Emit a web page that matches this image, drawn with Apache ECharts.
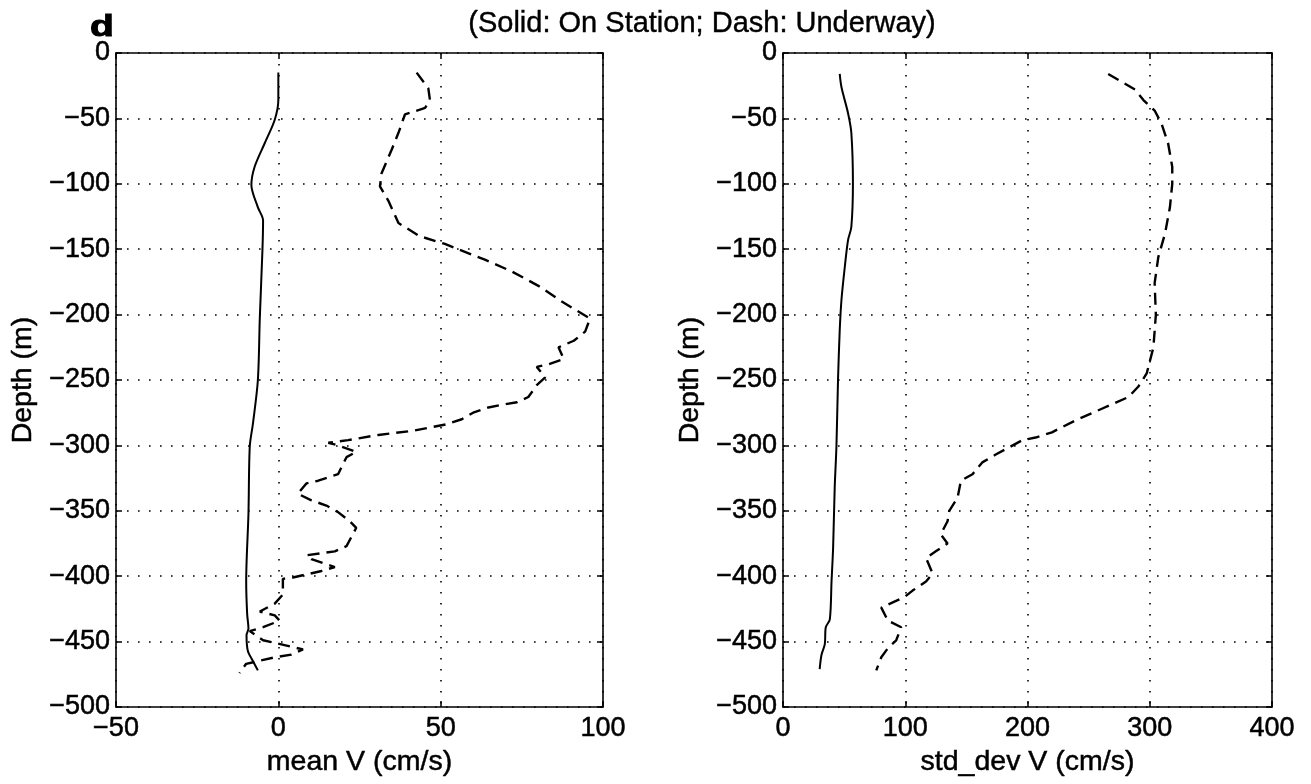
<!DOCTYPE html>
<html><head><meta charset="utf-8">
<script src="https://cdn.jsdelivr.net/npm/echarts@6/dist/echarts.min.js"></script>
<style>html,body{margin:0;padding:0;background:#fff}#c{width:1311px;height:784px}</style>
</head><body><div id="c"></div>
<script>
// ---- Data (depth in m, velocity in cm/s) ----
const meanStationDepth = [-15,-36,-51,-69,-87,-101,-118,-128,-151,-202,-250,-283,-301,-352,-404,-429,-440,-445,-457,-465,-472];
const meanStationV     = [0,0,-1.1,-4.2,-7.3,-8.3,-6.3,-4.7,-4.9,-5.7,-6.3,-7.8,-8.8,-9.2,-9.9,-9.6,-9.2,-9.8,-9.4,-7.8,-6.3];

const meanUnderwayDepth = [-15,-27,-36,-42,-47,-61,-74,-92,-102,-113,-130,-140,-146,-150,-158,-167,-178,-190,-203,-213,-220,-225,-234,-238,-240,-248,-254,-263,-267,-269,-271,-275,-280,-284,-289,-292,-296,-298,-300,-305,-309,-322,-327,-329,-337,-342,-346,-351,-358,-363,-377,-381,-384,-387,-390,-393,-396,-401,-402,-414,-421,-427,-430,-434,-439,-442,-449,-451,-456,-460,-462,-465,-467,-474];
const meanUnderwayV     = [42.6,46.2,46.7,45.2,39,37,34.9,31.8,31.3,33.9,37,43.5,51.3,55.4,63.6,71.9,80.1,87.3,96,94.5,91,86.3,87.9,83.2,79.6,82.2,79.6,77,73.5,68.8,64.7,60,56.5,51.5,41,30.8,21.5,15.4,18.4,24,21,18.4,12.3,8.7,6,10.2,14.8,18.4,22,24,21,17.4,8.7,10.2,13.8,17.4,13.3,4.5,1.4,1.4,-1.1,-5.7,-1.1,0.4,-4.7,-8.8,-4.7,-1.1,7.6,4,-1.1,-6.3,-9.9,-12];

const sdStationDepth = [-16,-26,-46,-61,-100,-133,-143,-164,-189,-212,-250,-301,-332,-378,-404,-433,-439,-452,-460,-471];
const sdStationV     = [46.4,47.8,53.2,55.9,57.2,55.9,53.2,50.5,47.8,46.4,45,43.7,42.3,41,39.7,38.3,35,34.2,31.5,30];

const sdUnderwayDepth = [-16,-22,-28,-36,-44,-54,-69,-87,-100,-118,-138,-156,-176,-200,-225,-245,-255,-263,-272,-281,-290,-294,-296,-307,-313,-322,-327,-340,-350,-358,-368,-375,-381,-386,-398,-404,-411,-416,-420,-424,-434,-439,-449,-455,-462,-472];
const sdUnderwayV     = [266,277,288,294.8,304,309.6,315,318.4,318.4,316.5,312.5,307,304,305,303,297.5,290.7,282.6,260.8,239,220,206.6,195.8,174,163,155,145.5,142.8,136,134.6,129,134.6,125,117,122.4,117,106,99.3,89.8,80.4,85.8,96.7,92.6,85.8,80.4,76.3];

const meanXTicks = {min:-50, max:100, interval:50};
const sdXTicks   = {min:0, max:400, interval:100};
const depthTicks = {min:-500, max:0, interval:50};

const titleText = '(Solid: On Station; Dash: Underway)';
const panelLabel = 'd';

// ---- Build ----
const FONT = '"Liberation Sans", Arial, Helvetica, sans-serif';
const pairs = (xs, ds) => xs.map((v,i)=>[v, ds[i]]);
const fmt = v => String(v).replace('-', '\u2212');
const tickTxt = {color:'#000', fontFamily:FONT, fontSize:27, textBorderColor:'#000', textBorderWidth:0.5};
const nameTxt = {color:'#000', fontFamily:FONT, fontSize:28.5, textBorderColor:'#000', textBorderWidth:0.5};

function xAx(grid, t, name, pos){
  const main = pos === 'bottom';
  return {
    gridIndex:grid, type:'value', min:t.min, max:t.max, interval:t.interval, position:pos,
    axisLine:{show:true, onZero:false, lineStyle:{color:'#000', width:1.6}},
    axisTick:{show:true, inside:true, length:6, lineStyle:{color:'#000', width:1.5}},
    axisLabel:main ? Object.assign({show:true, margin:8, formatter:fmt}, tickTxt) : {show:false},
    splitLine:main ? {show:true, lineStyle:{color:'#000', width:1.6, type:[1.6,9.4]}} : {show:false},
    name: main ? name : '', nameLocation:'middle', nameGap:39, nameTextStyle:nameTxt
  };
}
function yAx(grid, t, name, pos){
  const main = pos === 'left';
  return {
    gridIndex:grid, type:'value', min:t.min, max:t.max, interval:t.interval, position:pos,
    axisLine:{show:true, onZero:false, lineStyle:{color:'#000', width:1.6}},
    axisTick:{show:true, inside:true, length:6, lineStyle:{color:'#000', width:1.5}},
    axisLabel:main ? Object.assign({show:true, margin:6, formatter:fmt}, tickTxt) : {show:false},
    splitLine:main ? {show:true, lineStyle:{color:'#000', width:1.6, type:[1.6,9.4]}} : {show:false},
    name: main ? name : '', nameLocation:'middle', nameGap:78, nameRotate:90, nameTextStyle:nameTxt
  };
}
const solid = {color:'#000', width:2, type:'solid'};
const dash  = {color:'#000', width:2.4, type:[12,7]};
function ser(xi, yi, data, ls, smooth){
  return {type:'line', xAxisIndex:xi, yAxisIndex:yi, data:data, showSymbol:false, symbol:'none',
          lineStyle:ls, smooth:smooth, silent:true, animation:false, z:5};
}

const chart = echarts.init(document.getElementById('c'), null, {renderer:'canvas'});
chart.setOption({
  backgroundColor:'#fff',
  animation:false,
  grid:[
    {left:116, top:53, width:487, height:654},
    {left:783, top:53, width:489, height:654}
  ],
  xAxis:[
    xAx(0, meanXTicks, 'mean V (cm/s)', 'bottom'),
    xAx(0, meanXTicks, '', 'top'),
    xAx(1, sdXTicks, 'std_dev V (cm/s)', 'bottom'),
    xAx(1, sdXTicks, '', 'top')
  ],
  yAxis:[
    yAx(0, depthTicks, 'Depth (m)', 'left'),
    yAx(0, depthTicks, '', 'right'),
    yAx(1, depthTicks, 'Depth (m)', 'left'),
    yAx(1, depthTicks, '', 'right')
  ],
  graphic:[
    {type:'text', x:702, y:24, style:{text:titleText, textAlign:'center', textVerticalAlign:'middle', font:'29px "Liberation Sans"', fill:'#000', stroke:'#000', lineWidth:0.4}},
    {type:'text', x:102, y:28, scaleX:1.3, style:{text:panelLabel, textAlign:'center', textVerticalAlign:'middle', font:'bold 30px "Liberation Sans"', fill:'#000', stroke:'#000', lineWidth:1}}
  ],
  series:[
    ser(0, 0, pairs(meanStationV, meanStationDepth), solid, 0.3),
    ser(0, 0, pairs(meanUnderwayV, meanUnderwayDepth), dash, false),
    ser(2, 2, pairs(sdStationV, sdStationDepth), solid, 0.3),
    ser(2, 2, pairs(sdUnderwayV, sdUnderwayDepth), dash, false)
  ]
});
</script>
</body></html>
